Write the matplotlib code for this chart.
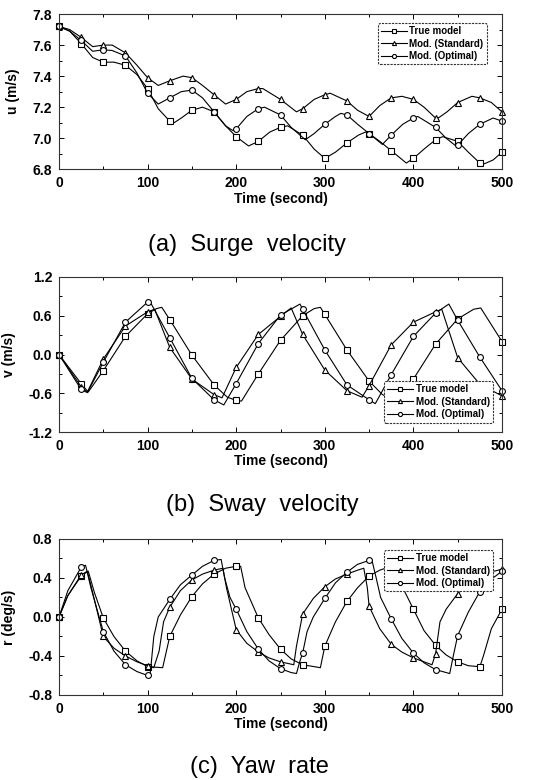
import matplotlib
matplotlib.use("Agg")
import matplotlib.pyplot as plt
from matplotlib.ticker import MultipleLocator
import numpy as np

plt.rcParams['font.family'] = ['Liberation Sans', 'DejaVu Sans']

labels = ["True model", "Mod. (Standard)", "Mod. (Optimal)"]
markers = ["s", "^", "o"]

# (a) surge velocity u (m/s)
u_true_t = [0, 12, 25, 38, 50, 62, 75, 88, 100, 112, 125, 130, 138, 150, 162, 175, 188, 200, 214, 225,
            238, 250, 258, 275, 288, 300, 312, 325, 338, 346, 350, 362, 375, 392, 400, 412, 425, 433,
            450, 462, 475, 480, 490, 500]
u_true = [7.72, 7.69, 7.61, 7.52, 7.49, 7.49, 7.47, 7.41, 7.32, 7.19, 7.11, 7.10, 7.13, 7.18, 7.20, 7.17,
          7.08, 7.01, 6.95, 6.98, 7.04, 7.07, 7.08, 7.02, 6.93, 6.87, 6.91, 6.97, 7.02, 7.04, 7.03,
          6.98, 6.92, 6.84, 6.87, 6.93, 6.99, 7.01, 6.98, 6.91, 6.84, 6.835, 6.86, 6.91]
u_std_t = [0, 12, 25, 38, 50, 60, 75, 88, 100, 112, 125, 140, 150, 162, 175, 188, 200, 212, 225, 230,
           250, 268, 275, 288, 300, 306, 325, 337, 350, 362, 375, 387, 400, 412, 425, 428, 438, 450,
           466, 475, 488, 500]
u_std = [7.72, 7.70, 7.65, 7.59, 7.60, 7.60, 7.55, 7.47, 7.39, 7.34, 7.37, 7.40, 7.39, 7.34, 7.28, 7.22,
         7.25, 7.30, 7.32, 7.32, 7.25, 7.17, 7.19, 7.25, 7.28, 7.29, 7.24, 7.18, 7.14, 7.21, 7.26,
         7.27, 7.25, 7.20, 7.13, 7.13, 7.17, 7.23, 7.27, 7.26, 7.23, 7.17]
u_opt_t = [0, 12, 25, 38, 50, 60, 75, 88, 100, 112, 125, 138, 150, 162, 175, 188, 196, 200, 212, 225,
           232, 250, 262, 278, 288, 300, 312, 318, 325, 337, 350, 365, 375, 388, 400, 405, 425, 437,
           448, 450, 462, 475, 490, 500]
u_opt = [7.72, 7.69, 7.63, 7.56, 7.57, 7.565, 7.53, 7.42, 7.29, 7.22, 7.26, 7.30, 7.31, 7.26, 7.17,
         7.08, 7.05, 7.06, 7.14, 7.19, 7.20, 7.15, 7.07, 6.99, 7.03, 7.09, 7.14, 7.16, 7.15, 7.09,
         7.03, 6.96, 7.02, 7.09, 7.13, 7.14, 7.07, 7.00, 6.95, 6.955, 7.03, 7.09, 7.13, 7.11]

# (b) sway velocity v (m/s)
v_true_t = [0, 25, 33, 50, 75, 100, 110, 116, 125, 150, 175, 190, 200, 206, 225, 250, 275, 288, 295,
            300, 325, 350, 365, 375, 382, 400, 425, 450, 468, 476, 500]
v_true = [0.0, -0.45, -0.58, -0.25, 0.28, 0.63, 0.71, 0.73, 0.54, -0.01, -0.47, -0.66, -0.71, -0.72,
          -0.30, 0.22, 0.60, 0.71, 0.73, 0.62, 0.07, -0.41, -0.62, -0.68, -0.71, -0.38, 0.16, 0.55,
          0.70, 0.72, 0.20]
v_std_t = [0, 25, 32, 50, 75, 100, 108, 125, 150, 175, 184, 200, 225, 250, 262, 275, 300, 325, 342,
           350, 375, 400, 425, 432, 450, 475, 500]
v_std = [0.0, -0.50, -0.58, -0.07, 0.44, 0.66, 0.70, 0.11, -0.38, -0.62, -0.67, -0.20, 0.31, 0.59,
         0.72, 0.31, -0.24, -0.56, -0.66, -0.48, 0.15, 0.50, 0.66, 0.70, -0.05, -0.46, -0.64]
v_opt_t = [0, 25, 32, 50, 75, 100, 103, 125, 150, 175, 186, 200, 225, 250, 272, 275, 300, 325, 350,
           357, 375, 400, 425, 440, 450, 475, 500]
v_opt = [0.0, -0.54, -0.59, -0.12, 0.50, 0.81, 0.81, 0.26, -0.37, -0.70, -0.78, -0.45, 0.17, 0.61,
         0.78, 0.70, 0.07, -0.47, -0.70, -0.76, -0.31, 0.28, 0.64, 0.78, 0.53, -0.04, -0.56]

# (c) yaw rate r (deg/s)
r_true_t = [0, 10, 25, 33, 40, 50, 62, 75, 88, 100, 117, 120, 125, 137, 150, 162, 175, 188, 200, 205,
            210, 225, 237, 250, 262, 275, 295, 300, 312, 325, 337, 350, 362, 375, 382, 388, 400, 412,
            425, 437, 450, 462, 475, 479, 488, 500]
r_true = [0.0, 0.22, 0.42, 0.47, 0.25, -0.01, -0.20, -0.35, -0.45, -0.51, -0.52, -0.40, -0.20, 0.02,
          0.21, 0.34, 0.44, 0.50, 0.52, 0.52, 0.30, -0.01, -0.18, -0.33, -0.43, -0.49, -0.52, -0.30,
          -0.05, 0.16, 0.30, 0.42, 0.48, 0.52, 0.52, 0.30, 0.08, -0.14, -0.29, -0.39, -0.46, -0.50,
          -0.51, -0.40, -0.12, 0.08]
r_std_t = [0, 10, 25, 32, 38, 50, 62, 75, 88, 100, 107, 113, 118, 125, 137, 150, 162, 175, 185, 189,
           200, 212, 225, 237, 250, 265, 268, 275, 287, 300, 312, 325, 337, 344, 348, 350, 362, 375,
           387, 400, 412, 421, 425, 430, 437, 450, 462, 475, 487, 500]
r_std = [0.0, 0.22, 0.43, 0.47, 0.25, -0.20, -0.32, -0.40, -0.46, -0.50, -0.52, -0.35, -0.05, 0.10,
         0.27, 0.38, 0.44, 0.48, 0.50, 0.30, -0.13, -0.27, -0.36, -0.42, -0.46, -0.49, -0.30, 0.03,
         0.19, 0.31, 0.39, 0.44, 0.48, 0.50, 0.30, 0.11, -0.12, -0.28, -0.36, -0.42, -0.46, -0.49,
         -0.38, -0.05, 0.08, 0.24, 0.35, 0.42, 0.46, 0.49]
r_opt_t = [0, 10, 25, 30, 36, 50, 62, 75, 88, 100, 103, 107, 112, 125, 137, 150, 162, 175, 183, 187,
           193, 200, 212, 225, 237, 250, 262, 268, 272, 275, 280, 287, 300, 312, 325, 337, 350, 353,
           358, 363, 375, 387, 400, 412, 425, 437, 441, 445, 450, 462, 475, 487, 500]
r_opt = [0.0, 0.27, 0.51, 0.53, 0.30, -0.15, -0.35, -0.49, -0.56, -0.60, -0.58, -0.20, 0.00, 0.18,
         0.33, 0.43, 0.52, 0.58, 0.59, 0.40, 0.20, 0.08, -0.15, -0.33, -0.45, -0.53, -0.57, -0.58,
         -0.45, -0.37, -0.15, 0.00, 0.19, 0.35, 0.46, 0.54, 0.58, 0.59, 0.40, 0.20, -0.02, -0.22,
         -0.37, -0.47, -0.54, -0.57, -0.58, -0.40, -0.19, 0.05, 0.26, 0.38, 0.47]

panels = [
    ([(u_true_t, u_true), (u_std_t, u_std), (u_opt_t, u_opt)], "u (m/s)", (6.8, 7.8), 0.2, 0.1,
     "(a)  Surge  velocity", [0.783, 0.982], 247, 245, ("upper right", (0.977, 0.975))),
    ([(v_true_t, v_true), (v_std_t, v_std), (v_opt_t, v_opt)], "v (m/s)", (-1.2, 1.2), 0.6, 0.3,
     "(b)  Sway  velocity", [0.446, 0.645], 262, 505, ("lower right", (0.991, 0.03))),
    ([(r_true_t, r_true), (r_std_t, r_std), (r_opt_t, r_opt)], "r (deg/s)", (-0.8, 0.8), 0.4, 0.2,
     "(c)  Yaw  rate", [0.109, 0.309], 259, 767, ("upper right", (0.991, 0.962))),
]

W, H = 551, 780
fig = plt.figure(figsize=(W / 100, H / 100), dpi=100)

for series, ylab, ylim, major, minor, caption, (y0, y1), cx, cy, (loc, anchor) in panels:
    ax = fig.add_axes([59 / W, y0, 443 / W, y1 - y0])
    for (t, vals), m, lab in zip(series, markers, labels):
        t = np.asarray(t)
        idx = [i for i, tt in enumerate(t) if tt % 25 == 0]
        ax.plot(t, vals, color="black", lw=0.8, marker=m, markevery=idx, ms=4.2,
                mfc="white", mec="black", mew=0.8, label=lab, clip_on=False)
    ax.set_xlim(0, 500)
    ax.set_ylim(*ylim)
    ax.xaxis.set_major_locator(MultipleLocator(100))
    ax.xaxis.set_minor_locator(MultipleLocator(50))
    ax.yaxis.set_major_locator(MultipleLocator(major))
    ax.yaxis.set_minor_locator(MultipleLocator(minor))
    ax.tick_params(which="both", direction="in", top=True, right=True, width=0.7)
    ax.tick_params(which="major", length=3.5, labelsize=10, pad=5)
    ax.tick_params(which="minor", length=2)
    for lbl in ax.get_xticklabels() + ax.get_yticklabels():
        lbl.set_fontweight("bold")
    ax.yaxis.set_major_formatter(plt.FuncFormatter(lambda v, p: f"{v:.1f}"))
    for s in ax.spines.values():
        s.set_linewidth(0.8)
        s.set_color("#333333")
    ax.set_xlabel("Time (second)", fontsize=10, fontweight="bold", labelpad=1)
    ax.set_ylabel(ylab, fontsize=10, fontweight="bold", labelpad=9)
    leg = ax.legend(loc=loc, bbox_to_anchor=anchor, fontsize=7, handlelength=2.6,
                    labelspacing=0.25, borderpad=0.35, handletextpad=0.3, fancybox=True,
                    framealpha=1, edgecolor="#333333", markerscale=0.7)
    leg.get_frame().set_linestyle((0, (2, 1)))
    leg.get_frame().set_linewidth(0.8)
    for txt in leg.get_texts():
        txt.set_fontweight("bold")
    fig.text(cx / W, 1 - cy / H, caption, ha="center", va="center", fontsize=17)

fig.savefig("out.png", dpi=100, facecolor="white")
